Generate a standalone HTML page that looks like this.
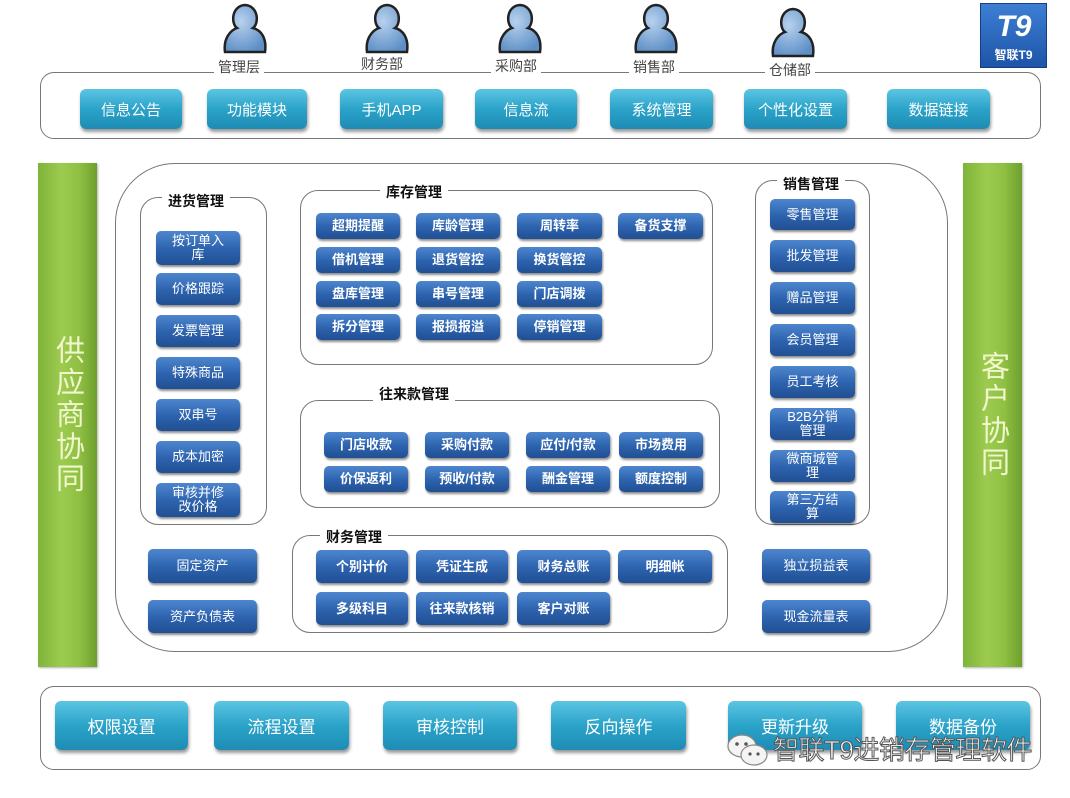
<!DOCTYPE html>
<html><head><meta charset="utf-8"><style>
*{margin:0;padding:0;box-sizing:border-box}
body{width:1070px;height:798px;background:#fff;position:relative;overflow:hidden;font-family:"Liberation Sans","Noto Sans CJK SC",sans-serif}
div{position:absolute}
.b{background:linear-gradient(#4d86cf,#2c62ad 55%,#214f92);border-radius:5px;color:#fff;font-size:13px;display:flex;align-items:center;justify-content:center;text-align:center;line-height:14px;box-shadow:1px 2px 2px rgba(0,0,0,.45);font-weight:bold}
.bl{font-weight:normal}
.t{background:linear-gradient(#5cc5e3,#2ba3c9 50%,#1e8cb4);border-radius:6px;color:#fff;display:flex;align-items:center;justify-content:center;box-shadow:1px 3px 3px rgba(0,0,0,.4);font-size:15px}
.p{border:1px solid #777;border-radius:18px}
.h{background:#fff;font-weight:bold;font-size:14px;color:#111;padding:0 6px;line-height:16px}
.g{background:linear-gradient(90deg,#7fb33a,#9ccb4f 40%,#8fc043 70%,#6e9f2e);color:#f1f6cc;font-size:29px;writing-mode:vertical-rl;display:flex;align-items:center;justify-content:center;letter-spacing:3px;box-shadow:1px 1px 2px rgba(0,0,0,.3)}
.lb{font-size:14px;color:#444;background:#fff;padding:0 4px;line-height:15px}
</style></head><body>
<svg style="position:absolute;left:0;top:0" width="1070" height="70">
<defs><radialGradient id="pg" cx="40%" cy="35%" r="70%"><stop offset="0" stop-color="#b7d1ee"/><stop offset="1" stop-color="#5d8fc6"/></radialGradient></defs>
<g stroke="#222" stroke-width="2.5" fill="url(#pg)">
<g transform="translate(245,0)"><path d="M-20,52 C-22,38 -14,30 -8,28 C-14,24 -14,6 0,5 C14,6 14,24 8,28 C16,30 22,38 20,52 Z"/></g>
<g transform="translate(387,0)"><path d="M-20,52 C-22,38 -14,30 -8,28 C-14,24 -14,6 0,5 C14,6 14,24 8,28 C16,30 22,38 20,52 Z"/></g>
<g transform="translate(520,0)"><path d="M-20,52 C-22,38 -14,30 -8,28 C-14,24 -14,6 0,5 C14,6 14,24 8,28 C16,30 22,38 20,52 Z"/></g>
<g transform="translate(656,0)"><path d="M-20,52 C-22,38 -14,30 -8,28 C-14,24 -14,6 0,5 C14,6 14,24 8,28 C16,30 22,38 20,52 Z"/></g>
<g transform="translate(793,4)"><path d="M-20,52 C-22,38 -14,30 -8,28 C-14,24 -14,6 0,5 C14,6 14,24 8,28 C16,30 22,38 20,52 Z"/></g>
</g></svg>
<div style="left:980px;top:3px;width:67px;height:65px;background:linear-gradient(#3d7fd4,#1d55a8);border:1px solid #15407f;color:#fff;font-size:12px;text-align:center">
<div style="left:8px;top:6px;width:50px;height:34px;font-size:30px;font-weight:bold;font-style:italic;line-height:34px;color:#fff">T9</div>
<div style="left:0;top:44px;width:65px;font-size:12px;line-height:14px;font-weight:bold">智联T9</div></div>
<div class="p" style="left:40px;top:72px;width:1001px;height:67px;border-radius:14px"></div>
<div class="lb" style="left:214px;top:60px">管理层</div>
<div class="lb" style="left:357px;top:57px">财务部</div>
<div class="lb" style="left:491px;top:59px">采购部</div>
<div class="lb" style="left:629px;top:60px">销售部</div>
<div class="lb" style="left:765px;top:63px">仓储部</div>
<div class="t" style="left:80px;top:89px;width:102px;height:40px">信息公告</div>
<div class="t" style="left:207px;top:89px;width:100px;height:40px">功能模块</div>
<div class="t" style="left:340px;top:89px;width:103px;height:40px">手机APP</div>
<div class="t" style="left:475px;top:89px;width:102px;height:40px">信息流</div>
<div class="t" style="left:610px;top:89px;width:103px;height:40px">系统管理</div>
<div class="t" style="left:744px;top:89px;width:103px;height:40px">个性化设置</div>
<div class="t" style="left:887px;top:89px;width:103px;height:40px">数据链接</div>
<div class="g" style="left:38px;top:163px;width:59px;height:504px">供应商协同</div>
<div class="g" style="left:963px;top:163px;width:59px;height:504px">客户协同</div>
<div style="left:115px;top:163px;width:833px;height:489px;border:1px solid #777;border-radius:60px"></div>
<div class="p" style="left:140px;top:197px;width:127px;height:328px"></div>
<div class="h" style="left:162px;top:193px">进货管理</div>
<div class="b bl" style="left:156px;top:231px;width:84px;height:34px">按订单入<br>库</div>
<div class="b bl" style="left:156px;top:273px;width:84px;height:32px">价格跟踪</div>
<div class="b bl" style="left:156px;top:315px;width:84px;height:32px">发票管理</div>
<div class="b bl" style="left:156px;top:357px;width:84px;height:32px">特殊商品</div>
<div class="b bl" style="left:156px;top:399px;width:84px;height:32px">双串号</div>
<div class="b bl" style="left:156px;top:441px;width:84px;height:32px">成本加密</div>
<div class="b bl" style="left:156px;top:483px;width:84px;height:34px">审核并修<br>改价格</div>
<div class="p" style="left:300px;top:190px;width:413px;height:175px"></div>
<div class="h" style="left:380px;top:184px">库存管理</div>
<div class="b" style="left:316px;top:213px;width:84px;height:26px">超期提醒</div>
<div class="b" style="left:416px;top:213px;width:84px;height:26px">库龄管理</div>
<div class="b" style="left:517px;top:213px;width:85px;height:26px">周转率</div>
<div class="b" style="left:618px;top:213px;width:85px;height:26px">备货支撑</div>
<div class="b" style="left:316px;top:247px;width:84px;height:26px">借机管理</div>
<div class="b" style="left:416px;top:247px;width:84px;height:26px">退货管控</div>
<div class="b" style="left:517px;top:247px;width:85px;height:26px">换货管控</div>
<div class="b" style="left:316px;top:281px;width:84px;height:26px">盘库管理</div>
<div class="b" style="left:416px;top:281px;width:84px;height:26px">串号管理</div>
<div class="b" style="left:517px;top:281px;width:85px;height:26px">门店调拨</div>
<div class="b" style="left:316px;top:314px;width:84px;height:26px">拆分管理</div>
<div class="b" style="left:416px;top:314px;width:84px;height:26px">报损报溢</div>
<div class="b" style="left:517px;top:314px;width:85px;height:26px">停销管理</div>
<div class="p" style="left:300px;top:400px;width:420px;height:108px"></div>
<div class="h" style="left:373px;top:386px">往来款管理</div>
<div class="b" style="left:324px;top:432px;width:84px;height:26px">门店收款</div>
<div class="b" style="left:425px;top:432px;width:84px;height:26px">采购付款</div>
<div class="b" style="left:526px;top:432px;width:84px;height:26px">应付/付款</div>
<div class="b" style="left:619px;top:432px;width:84px;height:26px">市场费用</div>
<div class="b" style="left:324px;top:466px;width:84px;height:26px">价保返利</div>
<div class="b" style="left:425px;top:466px;width:84px;height:26px">预收/付款</div>
<div class="b" style="left:526px;top:466px;width:84px;height:26px">酬金管理</div>
<div class="b" style="left:619px;top:466px;width:84px;height:26px">额度控制</div>
<div class="p" style="left:292px;top:535px;width:436px;height:98px"></div>
<div class="h" style="left:320px;top:529px">财务管理</div>
<div class="b" style="left:316px;top:550px;width:92px;height:33px">个别计价</div>
<div class="b" style="left:416px;top:550px;width:92px;height:33px">凭证生成</div>
<div class="b" style="left:517px;top:550px;width:93px;height:33px">财务总账</div>
<div class="b" style="left:618px;top:550px;width:94px;height:33px">明细帐</div>
<div class="b" style="left:316px;top:592px;width:92px;height:33px">多级科目</div>
<div class="b" style="left:416px;top:592px;width:92px;height:33px">往来款核销</div>
<div class="b" style="left:517px;top:592px;width:93px;height:33px">客户对账</div>
<div class="b bl" style="left:148px;top:549px;width:109px;height:34px">固定资产</div>
<div class="b bl" style="left:148px;top:600px;width:109px;height:33px">资产负债表</div>
<div class="b bl" style="left:762px;top:549px;width:108px;height:34px">独立损益表</div>
<div class="b bl" style="left:762px;top:600px;width:108px;height:33px">现金流量表</div>
<div class="p" style="left:755px;top:180px;width:115px;height:345px"></div>
<div class="h" style="left:777px;top:176px">销售管理</div>
<div class="b bl" style="left:770px;top:199px;width:85px;height:31px">零售管理</div>
<div class="b bl" style="left:770px;top:240px;width:85px;height:32px">批发管理</div>
<div class="b bl" style="left:770px;top:282px;width:85px;height:32px">赠品管理</div>
<div class="b bl" style="left:770px;top:324px;width:85px;height:32px">会员管理</div>
<div class="b bl" style="left:770px;top:366px;width:85px;height:32px">员工考核</div>
<div class="b bl" style="left:770px;top:408px;width:85px;height:32px">B2B分销<br>管理</div>
<div class="b bl" style="left:770px;top:450px;width:85px;height:32px">微商城管<br>理</div>
<div class="b bl" style="left:770px;top:491px;width:85px;height:32px">第三方结<br>算</div>
<div class="p" style="left:40px;top:686px;width:1001px;height:84px;border-radius:14px"></div>
<div class="t" style="left:55px;top:701px;width:133px;height:49px;font-size:17px">权限设置</div>
<div class="t" style="left:214px;top:701px;width:135px;height:49px;font-size:17px">流程设置</div>
<div class="t" style="left:383px;top:701px;width:134px;height:49px;font-size:17px">审核控制</div>
<div class="t" style="left:551px;top:701px;width:135px;height:49px;font-size:17px">反向操作</div>
<div class="t" style="left:728px;top:701px;width:134px;height:49px;font-size:17px;align-items:flex-start;padding-top:12px">更新升级</div>
<div class="t" style="left:896px;top:701px;width:134px;height:49px;font-size:17px;align-items:flex-start;padding-top:12px">数据备份</div>
<svg style="position:absolute;left:726px;top:733px" width="46" height="36"><g fill="#f4f4f4" stroke="#888" stroke-width="1.2"><ellipse cx="16" cy="13" rx="14" ry="11"/><ellipse cx="28" cy="22" rx="13" ry="10"/></g><g fill="#555"><circle cx="11" cy="11" r="1.8"/><circle cx="20" cy="11" r="1.8"/><circle cx="24" cy="21" r="1.6"/><circle cx="32" cy="21" r="1.6"/></g></svg>
<div style="left:773px;top:734px;font-size:26px;color:#fff;line-height:32px;white-space:nowrap;-webkit-text-stroke:1px #555;letter-spacing:-0.5px">智联T9进销存管理软件</div>
</body></html>
